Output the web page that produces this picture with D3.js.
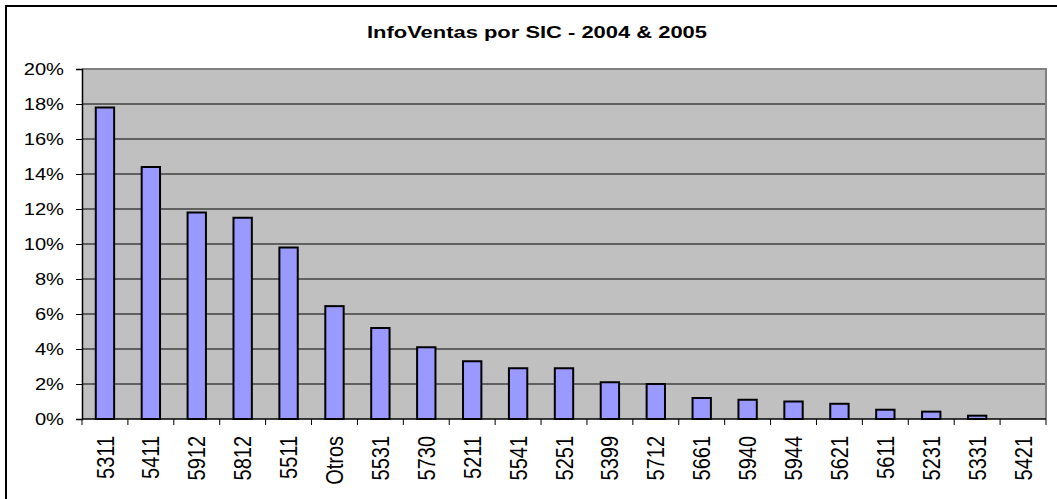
<!DOCTYPE html>
<html>
<head>
<meta charset="utf-8">
<script src="https://cdn.jsdelivr.net/npm/d3@7"></script>
<style>
  body { margin: 0; background: #fff; }
  text { font-family: "Liberation Sans", Arial, sans-serif; fill: #000; }
</style>
</head>
<body>
<svg id="chart" width="1057" height="499"></svg>
<script>
// data
var categories = ['5311','5411','5912','5812','5511','Otros','5531','5730','5211','5541','5251',
  '5399','5712','5661','5940','5944','5621','5611','5231','5331','5421']
var shares = [17.8, 14.4, 11.8, 11.5, 9.8, 6.45, 5.2, 4.1, 3.3, 2.9, 2.9,
  2.1, 2.0, 1.2, 1.1, 1.0, 0.87, 0.53, 0.42, 0.19, 0]
var yTicks = [0, 2, 4, 6, 8, 10, 12, 14, 16, 18, 20]
var title = 'InfoVentas por SIC - 2004 & 2005'

var svg = d3.select('#chart')
// plot box (note: "top" is taken by window.top)
var pLeft = 82, pRight = 1046, pTop = 69, pBottom = 419

// outer frame (right and bottom run off the picture)
svg.append('rect')
  .attr('x', 6).attr('y', 6)
  .attr('width', 1100).attr('height', 600)
  .attr('fill', '#fff')
  .attr('stroke', '#000')
  .attr('stroke-width', 2)

svg.append('text')
  .attr('x', 537).attr('y', 37.5)
  .attr('text-anchor', 'middle')
  .attr('font-size', 16)
  .attr('font-weight', 'bold')
  .attr('textLength', 340)
  .attr('lengthAdjust', 'spacingAndGlyphs')
  .text(title)

var x = d3.scaleBand()
  .domain(categories)
  .range([pLeft, pRight])
  .paddingInner(0.6)
  .paddingOuter(0.3)

var y = d3.scaleLinear().domain([0, 20]).range([pBottom, pTop])

// plot area
svg.append('rect')
  .attr('x', pLeft).attr('y', pTop)
  .attr('width', pRight - pLeft).attr('height', pBottom - pTop)
  .attr('fill', '#c0c0c0')

// grid
svg.append('g')
  .selectAll('line')
  .data(yTicks.slice(1, -1))
  .enter()
  .append('line')
    .attr('x1', pLeft).attr('x2', pRight)
    .attr('y1', d => y(d)).attr('y2', d => y(d))
    .attr('stroke', '#000')
    .attr('stroke-width', 1)

// grey border top and right
svg.append('path')
  .attr('d', 'M' + pLeft + ',' + pTop + 'H' + pRight + 'V' + pBottom)
  .attr('fill', 'none')
  .attr('stroke', '#808080')
  .attr('stroke-width', 2)

// bars
svg.append('g')
  .selectAll('rect')
  .data(shares)
  .enter()
  .append('rect')
    .attr('x', (d, i) => x(categories[i]))
    .attr('y', d => y(d))
    .attr('width', x.bandwidth())
    .attr('height', d => y(0) - y(d))
    .attr('fill', '#9999ff')
    .attr('stroke', '#000')
    .attr('stroke-width', 2)
    .style('display', d => d > 0 ? null : 'none')

// y axis
var yAxis = svg.append('g')
  .attr('transform', 'translate(' + pLeft + ',0)')
  .call(d3.axisLeft(y).tickValues(yTicks).tickSize(6).tickFormat(d => d + '%'))
yAxis.select('.domain').attr('stroke', '#000').attr('stroke-width', 1.5)
yAxis.selectAll('line').attr('stroke', '#000')
yAxis.selectAll('text')
  .attr('font-size', 16.5)
  .attr('x', 0)
  .attr('dy', '0.36em')
  .attr('transform', 'translate(-18,0) scale(1.22,1)')

// x axis line + ticks at band boundaries
var step = x.step()
var bounds = categories.map(c => x(c) - step * 0.3).concat([pRight])
svg.append('line')
  .attr('x1', pLeft).attr('x2', pRight)
  .attr('y1', pBottom).attr('y2', pBottom)
  .attr('stroke', '#000').attr('stroke-width', 1.5)
svg.append('g')
  .selectAll('line')
  .data(bounds)
  .enter()
  .append('line')
    .attr('x1', d => d).attr('x2', d => d)
    .attr('y1', pBottom).attr('y2', pBottom + 6)
    .attr('stroke', '#000')

// category labels
svg.append('g')
  .selectAll('text')
  .data(categories)
  .enter()
  .append('text')
    .attr('transform', d => 'translate(' + (x(d) + x.bandwidth() / 2) + ',436) scale(1.19,1) rotate(-90)')
    .attr('text-anchor', 'end')
    .attr('dy', '0.36em')
    .attr('font-size', 20)
    .text(d => d)
</script>
</body>
</html>
